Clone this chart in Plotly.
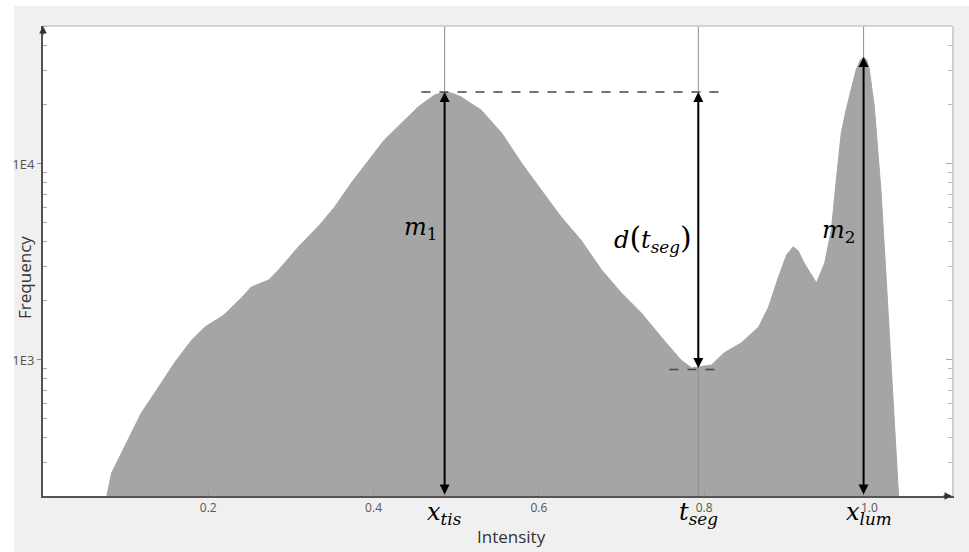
import numpy as np
import plotly.graph_objects as go

# ---- data ----
intensity = [0.077, 0.083, 0.099, 0.119, 0.140, 0.159, 0.180, 0.196, 0.219, 0.240,
             0.252, 0.273, 0.285, 0.309, 0.335, 0.353, 0.373, 0.394, 0.413, 0.434,
             0.454, 0.466, 0.474, 0.486, 0.496, 0.506, 0.530, 0.555, 0.579, 0.603,
             0.627, 0.651, 0.676, 0.700, 0.724, 0.748, 0.772, 0.785, 0.793, 0.809,
             0.824, 0.845, 0.866, 0.878, 0.890, 0.900, 0.908, 0.914, 0.921, 0.936,
             0.946, 0.954, 0.960, 0.966, 0.972, 0.978, 0.984, 0.989, 0.993, 0.997,
             1.000, 1.006, 1.014, 1.020, 1.026, 1.030, 1.036]
frequency = [200, 265, 360, 537, 728, 966, 1265, 1473, 1698, 2072,
             2355, 2557, 2877, 3774, 4900, 6040, 8000, 10470, 13250, 16180,
             19540, 21300, 22500, 23300, 22900, 21980, 18880, 14390, 10120, 7360,
             5370, 4090, 2877, 2197, 1738, 1310, 1000, 910, 921, 943,
             1086, 1222, 1473, 1862, 2648, 3450, 3780, 3600, 3126, 2472,
             3126, 4604, 8280, 14390, 19000, 23900, 30200, 33800, 35160, 33800,
             30200, 19540, 7360, 2781, 1035, 477, 200]

x_tis = 0.486
t_seg = 0.793
x_lum = 0.993
m1_val = 23300
m2_val = 35160
seg_val = 895

x_range = [0.0, 1.1]
y_range = [2.306, 4.704]          # log10 of frequency limits
x_tickvals = [0.2, 0.4, 0.6, 0.8, 1.0]
x_ticktext = ["0.2", "0.4", "0.6", "0.8", "1.0"]
y_tickvals = [1000, 10000]
y_ticktext = ["1E3", "1E4"]
y_minor = [300, 400, 500, 600, 700, 800, 900,
           2000, 3000, 4000, 5000, 6000, 7000, 8000, 9000,
           20000, 30000, 40000, 50000]

floor = 10 ** y_range[0] * 0.9
poly_x = [intensity[0]] + intensity + [intensity[-1]]
poly_y = [floor] + frequency + [floor]

fig = go.Figure()
fig.add_trace(go.Scatter(x=poly_x, y=poly_y, mode="lines", fill="toself",
                         fillcolor="#a5a5a5", line=dict(color="#a5a5a5", width=1),
                         hoverinfo="skip", showlegend=False))
# dashed reference lines
fig.add_trace(go.Scatter(x=[0.458, 0.823], y=[m1_val, m1_val], mode="lines",
                         line=dict(color="#444", width=1.5, dash="dash"), showlegend=False))
fig.add_trace(go.Scatter(x=[0.758, 0.823], y=[seg_val, seg_val], mode="lines",
                         line=dict(color="#444", width=1.5, dash="dash"), showlegend=False))
# invisible trace for right axis
fig.add_trace(go.Scatter(x=[0.5], y=[1000], yaxis="y2", mode="markers",
                         marker=dict(opacity=0), showlegend=False, hoverinfo="skip"))

shapes = []
for xv in [x_tis, t_seg, x_lum]:
    shapes.append(dict(type="line", xref="x", yref="paper", x0=xv, x1=xv, y0=0, y1=1,
                       line=dict(color="#8c8c8c", width=1)))
# top border
shapes.append(dict(type="line", xref="paper", yref="paper", x0=0, x1=1, y0=1, y1=1,
                   line=dict(color="#c8c8c8", width=1.5)))
# white strips around the grey page
shapes.append(dict(type="rect", xref="paper", yref="paper", x0=-0.06, x1=-0.0318, y0=-0.2, y1=1.2,
                   fillcolor="white", line=dict(width=0), layer="below"))
shapes.append(dict(type="rect", xref="paper", yref="paper", x0=-0.06, x1=1.1, y0=1.0426, y1=1.2,
                   fillcolor="white", line=dict(width=0), layer="below"))

ann = []
lg = np.log10
for xv, top in [(x_tis, m1_val), (x_lum, m2_val)]:
    ann.append(dict(x=xv, y=lg(top), ax=xv, ay=y_range[0], xref="x", yref="y", axref="x", ayref="y",
                    text="", showarrow=True, arrowhead=2, arrowside="end+start", arrowsize=1,
                    arrowwidth=2, arrowcolor="black", standoff=0, startstandoff=0))
ann.append(dict(x=t_seg, y=lg(m1_val), ax=t_seg, ay=lg(seg_val), xref="x", yref="y", axref="x", ayref="y",
                text="", showarrow=True, arrowhead=2, arrowside="end+start", arrowsize=1,
                arrowwidth=2, arrowcolor="black", standoff=0, startstandoff=0))
# axis arrows
ann.append(dict(x=0, y=1, xref="paper", yref="paper", ax=0, ay=10, text="", showarrow=True,
                arrowhead=2, arrowsize=1, arrowwidth=1.5, arrowcolor="#333"))
ann.append(dict(x=1, y=0, xref="paper", yref="paper", ax=-10, ay=0, text="", showarrow=True,
                arrowhead=2, arrowsize=1, arrowwidth=1.5, arrowcolor="#333"))

mfont = dict(family="DejaVu Serif", size=24, color="black")
ann.append(dict(x=x_tis, y=3.673, xref="x", yref="y", text="<i>m</i><sub>1</sub>", showarrow=False,
                xanchor="right", yanchor="middle", xshift=-6, font=mfont))
ann.append(dict(x=t_seg, y=3.622, xref="x", yref="y",
                text="<i>d</i><span style='font-size:30px'>(</span><i>t</i><sub><i>seg</i></sub><span style='font-size:30px'>)</span>",
                showarrow=False, xanchor="right", yanchor="middle", xshift=-4, font=mfont))
ann.append(dict(x=x_lum, y=3.653, xref="x", yref="y", text="<i>m</i><sub>2</sub>", showarrow=False,
                xanchor="right", yanchor="middle", xshift=-7, font=mfont))
for xv, txt, sh in [(x_tis, "<i>x</i><sub><i>tis</i></sub>", 0),
                    (t_seg, "<i>t</i><sub><i>seg</i></sub>", 0),
                    (x_lum, "<i>x</i><sub><i>lum</i></sub>", 5)]:
    ann.append(dict(x=xv, y=0, xref="x", yref="paper", text=txt, showarrow=False,
                    xanchor="center", yanchor="top", yshift=0, xshift=sh, font=mfont))
ann.append(dict(x=0.515, y=-0.087, xref="paper", yref="paper", text="Intensity", showarrow=False,
                xanchor="center", yanchor="middle",
                font=dict(family="Open Sans", size=17, color="#333")))
ann.append(dict(x=-0.0198, y=0.464, xref="paper", yref="paper", text="Frequency", showarrow=False,
                xanchor="center", yanchor="middle", textangle=-90,
                font=dict(family="Open Sans", size=17, color="#333")))

fig.update_layout(
    width=969, height=552,
    margin=dict(l=41, r=17, t=26, b=56),
    paper_bgcolor="#f0f0f0", plot_bgcolor="white",
    showlegend=False,
    shapes=shapes, annotations=ann,
    xaxis=dict(range=x_range, tickvals=x_tickvals, ticktext=x_ticktext, ticks="inside",
               ticklen=5, tickcolor="#999", showline=True, linecolor="#555", linewidth=2,
               showgrid=False, zeroline=False,
               tickfont=dict(family="Open Sans", size=12, color="#555")),
    yaxis=dict(type="log", range=y_range, tickvals=y_tickvals, ticktext=y_ticktext,
               ticks="outside", ticklen=4, tickcolor="#888", showline=True, linecolor="#555",
               linewidth=2, showgrid=False, zeroline=False,
               tickfont=dict(family="Open Sans", size=13, color="#555"),
               minor=dict(tickvals=y_minor, ticks="inside", ticklen=4, tickcolor="#aaa", showgrid=False)),
    yaxis2=dict(type="log", range=y_range, overlaying="y", side="right", tickvals=y_tickvals,
                showticklabels=False, ticks="inside", ticklen=6, tickcolor="#aaa", showline=True,
                linecolor="#cfcfcf", linewidth=1.5, showgrid=False, zeroline=False,
                minor=dict(tickvals=y_minor, ticks="inside", ticklen=4, tickcolor="#bbb", showgrid=False)),
)

fig.write_html("out.html")
